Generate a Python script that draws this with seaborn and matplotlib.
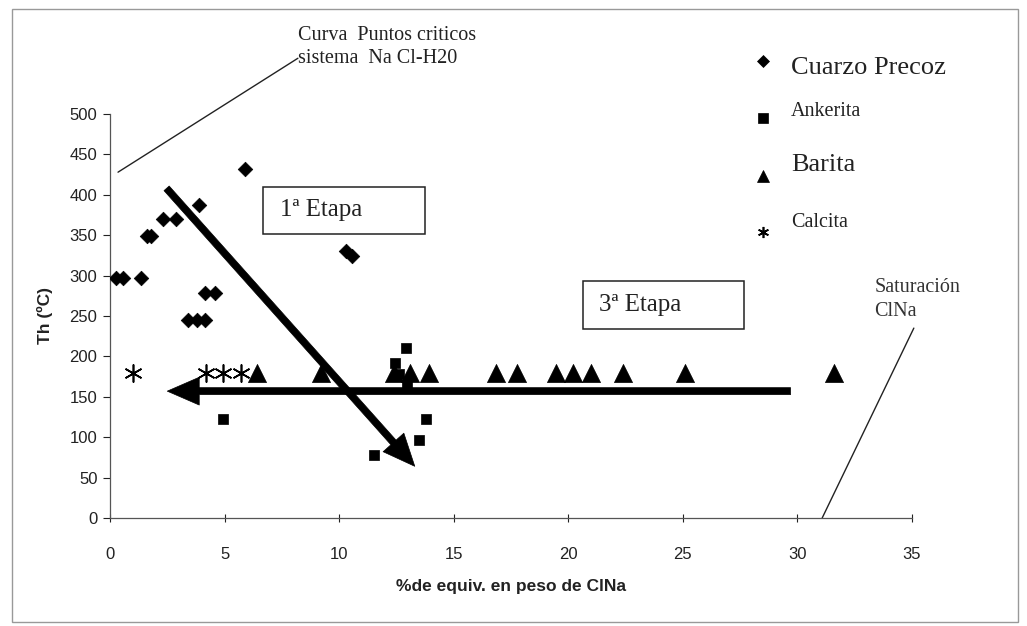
import matplotlib
matplotlib.use("Agg")
import matplotlib.pyplot as plt
import seaborn as sns
import pandas as pd
from matplotlib.lines import Line2D
from matplotlib.patches import Rectangle

# Homogenisation temperature (Th, ºC) vs. salinity (% equiv. weight NaCl)
cuarzo_x = [0.25, 0.55, 1.35, 1.6, 1.8, 2.3, 2.9, 3.9, 3.4, 3.8, 4.15, 4.15, 4.6, 5.9, 10.3, 10.55]
cuarzo_y = [297, 297, 297, 349, 349, 370, 370, 387, 245, 245, 245, 279, 279, 432, 331, 324]

ankerita_x = [4.95, 11.5, 12.45, 12.6, 12.9, 12.95, 13.5, 13.8]
ankerita_y = [123, 78, 192, 178, 210, 165, 96, 123]

barita_x = [6.4, 9.2, 12.4, 13.1, 13.9, 16.85, 17.75, 19.45, 20.2, 21.0, 22.4, 25.1, 31.6]
barita_y = [180, 180, 180, 180, 180, 180, 180, 180, 180, 180, 180, 180, 180]

calcita_x = [1.0, 4.2, 4.95, 5.7]
calcita_y = [180, 180, 180, 180]

series_names = ["Cuarzo Precoz", "Ankerita", "Barita", "Calcita"]

x_ticks = [0, 5, 10, 15, 20, 25, 30, 35]
y_ticks = [0, 50, 100, 150, 200, 250, 300, 350, 400, 450, 500]

# Evolution trends (start -> end) of the fluid stages
etapa1_start = (2.47, 408)
etapa1_end = (13.3, 64)
etapa3_start = (29.7, 157)
etapa3_end = (2.5, 157)

# Reference curves (critical points and halite saturation)
critica_x = [0.35, 8.2]
critica_y = [428, 569]
saturacion_x = [31.08, 35.08]
saturacion_y = [0, 235]

sns.set_theme(style="white")
plt.rcParams["font.family"] = ["Liberation Sans", "DejaVu Sans"]
SERIF = ["Liberation Serif", "DejaVu Serif"]
INK = "#222222"

fig = plt.figure(figsize=(10.27, 6.26), dpi=100)
ax = fig.add_axes([110 / 1027, 1 - 518 / 626, (912 - 110) / 1027, (518 - 114) / 626])
ax.set_facecolor("white")

df = pd.concat([
    pd.DataFrame({"x": cuarzo_x, "y": cuarzo_y, "mineral": series_names[0]}),
    pd.DataFrame({"x": ankerita_x, "y": ankerita_y, "mineral": series_names[1]}),
    pd.DataFrame({"x": barita_x, "y": barita_y, "mineral": series_names[2]}),
    pd.DataFrame({"x": calcita_x, "y": calcita_y, "mineral": series_names[3]}),
], ignore_index=True)

styles = {
    "Cuarzo Precoz": dict(marker="D", s=55),
    "Ankerita": dict(marker="s", s=55),
    "Barita": dict(marker="^", s=170),
}
for name, st in styles.items():
    sns.scatterplot(data=df[df["mineral"] == name], x="x", y="y", ax=ax,
                    color="black", edgecolor="black", linewidth=0.5,
                    legend=False, zorder=3, **st)
sns.scatterplot(data=df[df["mineral"] == "Calcita"], x="x", y="y", ax=ax,
                marker=(6, 2, 0), s=150, color="black", linewidth=1.2,
                legend=False, zorder=3)

# Stage arrows (filled polygon arrows)
arrow_kw = dict(width=5.0, headwidth=20, headlength=23,
                facecolor="black", edgecolor="black", lw=0.5)
ax.annotate("", xy=etapa1_end, xytext=etapa1_start, arrowprops=arrow_kw, zorder=4)
ax.annotate("", xy=etapa3_end, xytext=etapa3_start, arrowprops=arrow_kw, zorder=4)

# Stage labels in boxes
ax.add_patch(Rectangle((6.68, 351.5), 13.76 - 6.68, 409.7 - 351.5, fill=False,
                       edgecolor=INK, lw=1.1, zorder=2))
ax.text(7.42, 381, "1ª Etapa", family=SERIF, fontsize=18, va="center", ha="left",
        color=INK)
ax.add_patch(Rectangle((20.66, 233.9), 27.69 - 20.66, 293.3 - 233.9, fill=False,
                       edgecolor=INK, lw=1.1, zorder=2))
ax.text(21.35, 264, "3ª Etapa", family=SERIF, fontsize=18, va="center", ha="left",
        color=INK)

# Critical-point curve and halite saturation lines
ax.plot(critica_x, critica_y, color=INK, lw=1.0, clip_on=False)
ax.text(8.2, 583, "Curva  Puntos criticos\nsistema  Na Cl-H20", family=SERIF,
        fontsize=14.5, va="center", ha="left", linespacing=1.3, color=INK)
ax.plot(saturacion_x, saturacion_y, color=INK, lw=1.0, clip_on=False)
ax.text(33.35, 270, "Saturación\nClNa", family=SERIF, fontsize=14.5,
        va="center", ha="left", linespacing=1.35, color="#333333")

ax.set_xlim(0, 35)
ax.set_ylim(0, 500)
ax.set_xticks(x_ticks)
ax.set_yticks(y_ticks)
ax.set_xticklabels([str(t) for t in x_ticks])
ax.set_yticklabels([str(t) for t in y_ticks])
ax.tick_params(axis="both", labelsize=12, colors=INK)
ax.tick_params(axis="y", direction="out", length=5, width=0.8, left=True, pad=4)
ax.tick_params(axis="x", direction="inout", length=6, width=0.8, bottom=True, pad=18)
for side in ["top", "right"]:
    ax.spines[side].set_visible(False)
for side in ["left", "bottom"]:
    ax.spines[side].set_color("#555555")
    ax.spines[side].set_linewidth(0.9)
ax.set_xlabel("%de equiv. en peso de ClNa", fontsize=12.5, fontweight="bold",
              color=INK, labelpad=12)
ax.set_ylabel("Th (ºC)", fontsize=12.5, fontweight="bold", color=INK, labelpad=12)

# Legend drawn with figure coordinates
legend_items = [
    ("Cuarzo Precoz", "D", 6.5, 61, 68, 19),
    ("Ankerita", "s", 7.0, 118, 112, 14.5),
    ("Barita", "^", 8.5, 176, 165, 19),
    ("Calcita", (6, 2, 0), 8.0, 232, 222, 14.5),
]
for label, mk, ms, my, ty, fs in legend_items:
    fig.add_artist(Line2D([763 / 1027], [1 - my / 626], marker=mk, markersize=ms,
                          color="black", markeredgewidth=1.2 if mk == (6, 2, 0) else 0.5,
                          linestyle="none"))
    fig.text(791 / 1027, 1 - ty / 626, label, family=SERIF, fontsize=fs,
             va="center", ha="left", color=INK)

# Chart area frame
fig.add_artist(Rectangle((12 / 1027, 1 - 622 / 626), (1018 - 12) / 1027, (622 - 9) / 626,
                         transform=fig.transFigure, fill=False, edgecolor="#999999", lw=1.0))

fig.savefig("out.png", dpi=100, facecolor="white")
